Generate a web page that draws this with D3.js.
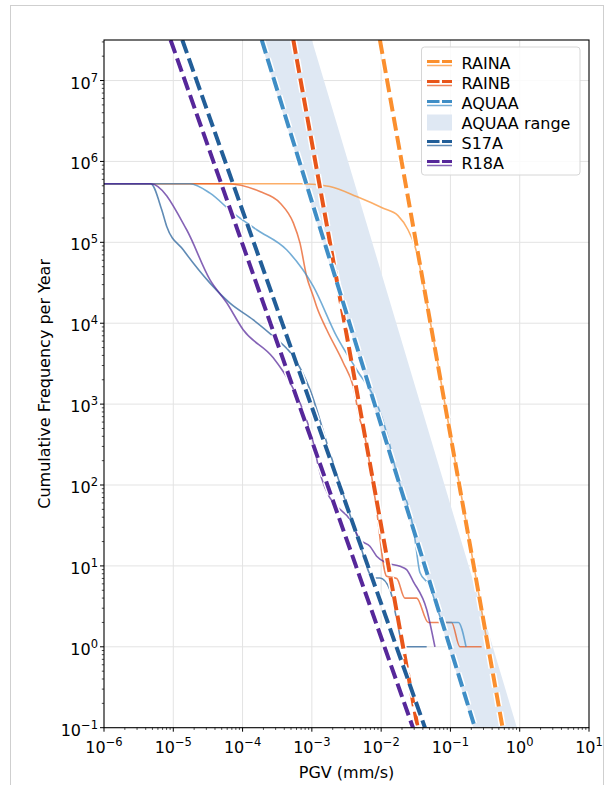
<!DOCTYPE html>
<html>
<head>
<meta charset="utf-8">
<script src="https://cdn.jsdelivr.net/npm/d3@7"></script>
<style>
html,body{margin:0;padding:0;background:#fff;}
svg{display:block;font-family:"DejaVu Sans",sans-serif;}
</style>
</head>
<body>
<svg id="chart" width="615" height="785"></svg>
<script>
// ---------- DATA ----------
const xTickValues = [1e-6, 1e-5, 1e-4, 1e-3, 1e-2, 1e-1, 1e0, 1e1];
const xTickExps = ["−6", "−5", "−4", "−3", "−2", "−1", "0", "1"];
const yTickValues = [1e-1, 1e0, 1e1, 1e2, 1e3, 1e4, 1e5, 1e6, 1e7];
const yTickExps = ["−1", "0", "1", "2", "3", "4", "5", "6", "7"];

const seriesNames = ["RAINA", "RAINB", "AQUAA", "S17A", "R18A"];
const seriesColors = ["#fb8f2e", "#e8561a", "#3f8ec6", "#225e98", "#56279a"];

// dashed power-law fits: [PGV, frequency] endpoints
const fitRAINA = [[9.6e-3, 3.17e7], [0.566, 0.1]];
const fitRAINB = [[5.4e-4, 3.17e7], [0.0337, 0.1]];
const fitAQUAA = [[1.89e-4, 3.17e7], [0.226, 0.1]];
const fitS17A  = [[1.35e-5, 3.17e7], [0.0429, 0.1]];
const fitR18A  = [[9.14e-6, 3.17e7], [0.0288, 0.1]];

// AQUAA range band: lower and upper bounding lines
const rangeLow  = [[1.8e-4, 3.17e7], [0.215, 0.1]];
const rangeHigh = [[1.0e-3, 3.17e7], [0.912, 0.1]];

// observed cumulative curves
const obsRAINA = [[1e-6, 5.3e5], [7.5e-4, 5.3e5], [1.82e-3, 4.89e5], [4.43e-3, 3.68e5], [0.0107, 2.64e5],
  [0.0175, 2.14e5], [0.0244, 1.43e5], [0.0308, 8.87e4], [0.0516, 1e4], [0.0834, 1e3], [0.135, 100],
  [0.218, 10], [0.348, 1]];
const obsRAINB = [[1e-6, 5.3e5], [5.9e-5, 5.3e5], [1.78e-4, 4.24e5], [3.47e-4, 3.07e5], [5.4e-4, 1.74e5],
  [6.73e-4, 9.86e4], [8.41e-4, 3.78e4], [1.05e-3, 2.14e4], [1.17e-3, 1.61e4], [1.64e-3, 8.3e3],
  [2.84e-3, 3.25e3], [3.95e-3, 1.66e3], [4.94e-3, 642], [5.52e-3, 483], [8.22e-3, 66],
  [0.012, 7.45], [0.0168, 7], [0.022, 4], [0.0325, 4], [0.0479, 2], [0.104, 2], [0.137, 1], [0.282, 1]];
const obsAQUAA = [[1e-6, 5.3e5], [1.74e-5, 5.3e5], [3.39e-5, 4.05e5], [7.35e-5, 2.29e5], [1.6e-4, 1.43e5],
  [4.32e-4, 8.08e4], [1.05e-3, 2.85e4], [2.28e-3, 6.86e3], [4.43e-3, 2.66e3], [8.61e-3, 1.03e3],
  [0.012, 440], [0.0177, 116], [0.0275, 37.4], [0.0308, 21.2], [0.0363, 8.27], [0.0506, 5.6],
  [0.0632, 3.17], [0.0787, 2], [0.13, 2], [0.168, 1]];
const obsS17A = [[1e-6, 5.3e5], [4.72e-6, 5.3e5], [6.81e-6, 2.52e5], [8.04e-6, 1.57e5], [1.39e-5, 8.08e4],
  [3.39e-5, 3.13e4], [6.58e-5, 1.77e4], [1.43e-4, 1.1e4], [2.77e-4, 6.86e3], [5.4e-4, 3.88e3],
  [9.4e-4, 1.51e3], [1.64e-3, 334], [3.0e-3, 66], [4.8e-3, 20], [7.69e-3, 7.1], [9.6e-3, 7.1], [0.0134, 5.1],
  [0.0168, 2.17], [0.0209, 1], [0.0454, 1]];
const obsR18A = [[1e-6, 5.3e5], [4.72e-6, 5.3e5], [1.56e-5, 1.43e5], [3.39e-5, 3.44e4], [5.9e-5, 1.79e4],
  [1.02e-4, 8.3e3], [2.77e-4, 3.74e3], [4.83e-4, 1.84e3], [6.73e-4, 1.04e3], [1.05e-3, 334],
  [1.24e-3, 170], [2.04e-3, 60], [2.28e-3, 54.5], [3.55e-3, 37.4], [4.94e-3, 21.2], [6.88e-3, 17.5],
  [8.61e-3, 13.2], [0.012, 10.9], [0.0187, 9.9], [0.0233, 9.0], [0.029, 6.46], [0.0454, 2.89], [0.0597, 1]];

const fits = [fitRAINA, fitRAINB, fitAQUAA, fitS17A, fitR18A];
const observed = [obsRAINA, obsRAINB, obsAQUAA, obsS17A, obsR18A];
const legendLabels = ["RAINA", "RAINB", "AQUAA", "AQUAA range", "S17A", "R18A"];

// ---------- CHART ----------
const svg = d3.select("#chart");
const L = 104, R = 589, T = 40, B = 727.7;
const x = d3.scaleLog().domain([1e-6, 10]).range([L, R]);
const y = d3.scaleLog().domain([0.1, 3.17e7]).range([B, T]);

// figure frame
svg.append("rect").attr("x", 10.5).attr("y", 5.5).attr("width", 593).attr("height", 790)
  .attr("fill", "none").attr("stroke", "#cfcfcf").attr("stroke-width", 1);

svg.append("defs").append("clipPath").attr("id", "clip")
  .append("rect").attr("x", L).attr("y", T).attr("width", R - L).attr("height", B - T);

// grid
const grid = svg.append("g");
grid.selectAll(".gx").data(xTickValues.slice(1, -1)).join("line")
  .attr("x1", d => x(d)).attr("x2", d => x(d)).attr("y1", T).attr("y2", B)
  .attr("stroke", "#e3e3e3").attr("stroke-width", 1);
grid.selectAll(".gy").data(yTickValues.slice(1)).join("line")
  .attr("x1", L).attr("x2", R).attr("y1", d => y(d)).attr("y2", d => y(d))
  .attr("stroke", "#e3e3e3").attr("stroke-width", 1);

const plot = svg.append("g").attr("clip-path", "url(#clip)");

// AQUAA range band
const band = rangeLow.concat(rangeHigh.slice().reverse());
plot.append("path")
  .attr("d", d3.line().x(d => x(d[0])).y(d => y(d[1]))(band) + "Z")
  .attr("fill", "#dfe8f3");

const line = d3.line().x(d => x(d[0])).y(d => y(d[1]));

// observed curves
observed.forEach((pts, i) => {
  plot.append("path").attr("d", d3.line().x(d => x(d[0])).y(d => y(d[1])).curve(d3.curveMonotoneX)(pts))
    .attr("fill", "none").attr("stroke", seriesColors[i]).attr("stroke-opacity", 0.72)
    .attr("stroke-width", 1.6).attr("stroke-linejoin", "round");
});

// dashed fits with white outline
fits.forEach((pts, i) => {
  plot.append("path").attr("d", line(pts))
    .attr("fill", "none").attr("stroke", "#fff").attr("stroke-width", 7)
    .attr("stroke-dasharray", "14,5.5");
  plot.append("path").attr("d", line(pts))
    .attr("fill", "none").attr("stroke", seriesColors[i]).attr("stroke-width", 4)
    .attr("stroke-dasharray", "14,5.5");
});

// axes frame
svg.append("rect").attr("x", L).attr("y", T).attr("width", R - L).attr("height", B - T)
  .attr("fill", "none").attr("stroke", "#000").attr("stroke-width", 1.1);

// ticks
const xMinor = [], yMinor = [];
for (let e = -6; e < 1; e++) for (let m = 2; m <= 9; m++) xMinor.push(m * Math.pow(10, e));
for (let e = -1; e < 8; e++) for (let m = 2; m <= 9; m++) { const v = m * Math.pow(10, e); if (v <= 3.17e7) yMinor.push(v); }

const ax = svg.append("g");
ax.selectAll(".xmaj").data(xTickValues).join("line")
  .attr("x1", d => x(d)).attr("x2", d => x(d)).attr("y1", B).attr("y2", B + 4)
  .attr("stroke", "#000").attr("stroke-width", 1);
ax.selectAll(".xmin").data(xMinor).join("line")
  .attr("x1", d => x(d)).attr("x2", d => x(d)).attr("y1", B).attr("y2", B + 2.2)
  .attr("stroke", "#000").attr("stroke-width", 0.7);
ax.selectAll(".ymaj").data(yTickValues).join("line")
  .attr("y1", d => y(d)).attr("y2", d => y(d)).attr("x1", L).attr("x2", L - 4)
  .attr("stroke", "#000").attr("stroke-width", 1);
ax.selectAll(".ymin").data(yMinor).join("line")
  .attr("y1", d => y(d)).attr("y2", d => y(d)).attr("x1", L).attr("x2", L - 2.2)
  .attr("stroke", "#000").attr("stroke-width", 0.7);

// tick labels
xTickValues.forEach((v, i) => {
  const t = ax.append("text").attr("x", x(v)).attr("y", B + 25).attr("text-anchor", "middle")
    .attr("font-size", 16).attr("fill", "#000");
  t.append("tspan").text("10");
  t.append("tspan").attr("dy", -7).attr("font-size", 11.5).text(xTickExps[i]);
});
yTickValues.forEach((v, i) => {
  const t = ax.append("text").attr("x", L - 6).attr("y", y(v) + 8).attr("text-anchor", "end")
    .attr("font-size", 16).attr("fill", "#000");
  t.append("tspan").text("10");
  t.append("tspan").attr("dy", -7).attr("font-size", 11.5).text(yTickExps[i]);
});

// axis labels
svg.append("text").attr("x", (L + R) / 2).attr("y", 778).attr("text-anchor", "middle")
  .attr("font-size", 16).text("PGV (mm/s)");
svg.append("text").attr("transform", `translate(50,${(T + B) / 2}) rotate(-90)`)
  .attr("text-anchor", "middle").attr("font-size", 16).text("Cumulative Frequency per Year");

// legend
const lg = svg.append("g");
lg.append("rect").attr("x", 421.5).attr("y", 47).attr("width", 158.5).attr("height", 128).attr("rx", 3)
  .attr("fill", "#fff").attr("fill-opacity", 0.85).attr("stroke", "#d6d6d6").attr("stroke-width", 1);
const legendColors = [seriesColors[0], seriesColors[1], seriesColors[2], null, seriesColors[3], seriesColors[4]];
legendLabels.forEach((lab, i) => {
  const cy = 62.5 + i * 20;
  if (legendColors[i] === null) {
    lg.append("rect").attr("x", 427).attr("y", cy - 8).attr("width", 25).attr("height", 16).attr("fill", "#dfe8f3");
  } else {
    lg.append("line").attr("x1", 427).attr("x2", 452).attr("y1", cy - 1).attr("y2", cy - 1)
      .attr("stroke", legendColors[i]).attr("stroke-width", 3.2).attr("stroke-dasharray", "12.5,2.5");
    lg.append("line").attr("x1", 427).attr("x2", 452).attr("y1", cy + 3).attr("y2", cy + 3)
      .attr("stroke", legendColors[i]).attr("stroke-opacity", 0.72).attr("stroke-width", 1.5);
  }
  lg.append("text").attr("x", 461.5).attr("y", cy + 6).attr("font-size", 16).text(lab);
});
</script>
</body>
</html>
